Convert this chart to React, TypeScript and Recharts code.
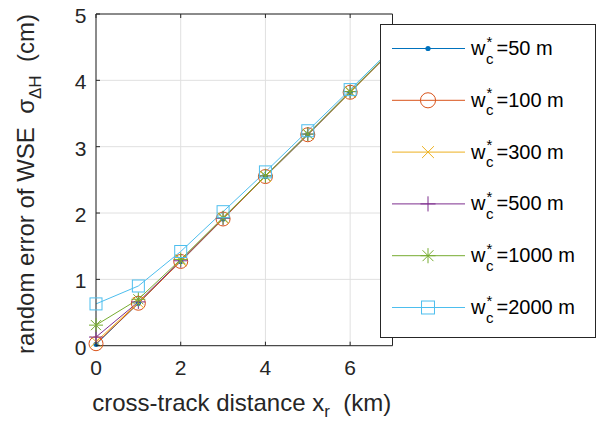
import { LineChart, Line, XAxis, YAxis, CartesianGrid, Legend } from "recharts"

// cross-track distance (km)
const distKm = [0, 1, 2, 3, 4, 5, 6, 7]

// random error of WSE (cm), one list per reach width
const w50 = [0.02, 0.64, 1.27, 1.91, 2.55, 3.18, 3.82, 4.46]
const w100 = [0.03, 0.64, 1.27, 1.91, 2.55, 3.18, 3.82, 4.46]
const w300 = [0.06, 0.65, 1.28, 1.92, 2.55, 3.19, 3.82, 4.46]
const w500 = [0.13, 0.66, 1.28, 1.92, 2.56, 3.19, 3.83, 4.46]
const w1000 = [0.31, 0.7, 1.3, 1.93, 2.56, 3.19, 3.83, 4.47]
const w2000 = [0.63, 0.9, 1.42, 2.02, 2.62, 3.24, 3.86, 4.49]

const xTicks = [0, 2, 4, 6]
const yTicks = [0, 1, 2, 3, 4, 5]

type MarkerKind = "dot" | "circle" | "cross" | "plus" | "star" | "square"

const series: { key: string; label: string; color: string; marker: MarkerKind; values: number[] }[] = [
  { key: "w50", label: "50 m", color: "#0072BD", marker: "dot", values: w50 },
  { key: "w100", label: "100 m", color: "#D95319", marker: "circle", values: w100 },
  { key: "w300", label: "300 m", color: "#EDB120", marker: "cross", values: w300 },
  { key: "w500", label: "500 m", color: "#7E2F8E", marker: "plus", values: w500 },
  { key: "w1000", label: "1000 m", color: "#77AC30", marker: "star", values: w1000 },
  { key: "w2000", label: "2000 m", color: "#4DBEEE", marker: "square", values: w2000 },
]

const data = distKm.map((x, i) => {
  const row: Record<string, number> = { x }
  series.forEach((s) => (row[s.key] = s.values[i]))
  return row
})

const FONT = "'Liberation Sans', Arial, Helvetica, sans-serif"
const AXIS = "#262626"
const TEXT = "#262626"

function Marker({ kind, cx, cy, color, scale = 1 }: { kind: MarkerKind; cx: number; cy: number; color: string; scale?: number }) {
  if (cx == null || cy == null) return null
  switch (kind) {
    case "dot":
      return <circle cx={cx} cy={cy} r={2.6} fill={color} stroke="none" />
    case "circle":
      return <circle cx={cx} cy={cy} r={7 * scale} fill="none" stroke={color} strokeWidth={1} />
    case "cross": {
      const h = 5.5 * scale
      return (
        <path d={`M${cx - h},${cy - h}L${cx + h},${cy + h}M${cx - h},${cy + h}L${cx + h},${cy - h}`} stroke={color} strokeWidth={1} fill="none" />
      )
    }
    case "plus": {
      const h = 7 * scale
      return <path d={`M${cx - h},${cy}L${cx + h},${cy}M${cx},${cy - h}L${cx},${cy + h}`} stroke={color} strokeWidth={1} fill="none" />
    }
    case "star": {
      const h = 7 * scale
      const d = h * 0.72
      return (
        <path
          d={`M${cx - h},${cy}L${cx + h},${cy}M${cx},${cy - h}L${cx},${cy + h}M${cx - d},${cy - d}L${cx + d},${cy + d}M${cx - d},${cy + d}L${cx + d},${cy - d}`}
          stroke={color}
          strokeWidth={1}
          fill="none"
        />
      )
    }
    case "square": {
      const h = 6 * scale
      return <rect x={cx - h} y={cy - h} width={2 * h} height={2 * h} fill="none" stroke={color} strokeWidth={1} />
    }
  }
  return null
}

const BottomTick = (p: any) => (
  <g>
    <line x1={p.x} x2={p.x} y1={p.y} y2={p.y - 4} stroke={AXIS} />
    <text x={p.x} y={p.y + 29} textAnchor="middle" fontSize={21} fontFamily={FONT} fill={TEXT}>
      {p.payload.value}
    </text>
  </g>
)

const TopTick = (p: any) => <line x1={p.x} x2={p.x} y1={p.y} y2={p.y + 4} stroke={AXIS} />

const LeftTick = (p: any) => (
  <g>
    <line x1={p.x} x2={p.x + 4} y1={p.y} y2={p.y} stroke={AXIS} />
    <text x={p.x - 9.5} y={p.y + 9} textAnchor="end" fontSize={21} fontFamily={FONT} fill={TEXT}>
      {p.payload.value}
    </text>
  </g>
)

const RightTick = (p: any) => <line x1={p.x} x2={p.x - 4} y1={p.y} y2={p.y} stroke={AXIS} />

function LegendBox() {
  const rowH = 51.8
  return (
    <svg width={217} height={315} style={{ display: "block" }}>
      <rect x={0.5} y={0.5} width={215} height={313} fill="#fff" stroke={AXIS} strokeWidth={1} />
      {series.map((s, i) => {
        const cy = 24.5 + i * rowH
        return (
          <g key={s.key}>
            <line x1={12} x2={85} y1={cy} y2={cy} stroke={s.color} strokeWidth={1} />
            <Marker kind={s.marker} cx={48} cy={cy} color={s.color} scale={1.08} />
            <text x={91} y={cy + 6.5} fontSize={20} fontFamily={FONT} fill="#000" style={{ whiteSpace: "pre" }}>
              w
              <tspan x={106.5} y={cy - 2} fontSize={15}>*</tspan>
              <tspan x={106} y={cy + 15} fontSize={15}>c</tspan>
              <tspan x={116.5} y={cy + 6.5}>={s.label}</tspan>
            </text>
          </g>
        )
      })}
    </svg>
  )
}

export default function App() {
  return (
    <div style={{ position: "absolute", left: 0, top: 0, background: "#fff" }}>
      <LineChart width={601} height={425} data={data} margin={{ top: 13, right: 207.5, bottom: 49.3, left: 66 }}>
        <CartesianGrid stroke="#e0e0e0" strokeWidth={1} />
        <XAxis
          dataKey="x"
          type="number"
          domain={[0, 7]}
          ticks={xTicks}
          interval={0}
          height={30}
          tickSize={0}
          tickMargin={0}
          tickLine={false}
          axisLine={{ stroke: AXIS }}
          tick={BottomTick}
          label={{
            content: () => (
              <text x={241.7} y={411} textAnchor="middle" fontSize={24} fontFamily={FONT} fill={TEXT} style={{ whiteSpace: "pre" }}>
                cross-track distance x<tspan fontSize={17} dy={6}>r</tspan>
                <tspan dy={-6}>{"  (km)"}</tspan>
              </text>
            ),
          }}
        />
        <XAxis
          xAxisId="top"
          orientation="top"
          dataKey="x"
          type="number"
          domain={[0, 7]}
          ticks={xTicks}
          interval={0}
          height={1}
          tickSize={0}
          tickMargin={0}
          tickLine={false}
          axisLine={{ stroke: AXIS }}
          tick={TopTick}
        />
        <YAxis
          type="number"
          domain={[0, 5]}
          ticks={yTicks}
          interval={0}
          width={30}
          tickSize={0}
          tickMargin={0}
          tickLine={false}
          axisLine={{ stroke: AXIS }}
          tick={LeftTick}
          label={{
            content: () => (
              <text
                transform="translate(33.5,184) rotate(-90)"
                textAnchor="middle"
                fontSize={24}
                fontFamily={FONT}
                fill={TEXT}
                style={{ whiteSpace: "pre" }}
              >
                {"random error of WSE  σ"}
                <tspan fontSize={17} dy={7}>ΔH</tspan>
                <tspan dy={-7}>{"  (cm)"}</tspan>
              </text>
            ),
          }}
        />
        <YAxis
          yAxisId="right"
          orientation="right"
          type="number"
          domain={[0, 5]}
          ticks={yTicks}
          interval={0}
          width={1}
          tickSize={0}
          tickMargin={0}
          tickLine={false}
          axisLine={{ stroke: AXIS }}
          tick={RightTick}
        />
        {series.map((s) => (
          <Line
            key={s.key}
            dataKey={s.key}
            name={s.label}
            stroke={s.color}
            strokeWidth={1}
            isAnimationActive={false}
            activeDot={false}
            dot={(p: any) => <Marker key={`${s.key}-${p.index}`} kind={s.marker} cx={p.cx} cy={p.cy} color={s.color} />}
          />
        ))}
        <Legend
          layout="vertical"
          align="center"
          verticalAlign="middle"
          content={() => <LegendBox />}
          wrapperStyle={{ position: "absolute", left: 380, top: 24, width: 217, height: 315 }}
        />
      </LineChart>
    </div>
  )
}
